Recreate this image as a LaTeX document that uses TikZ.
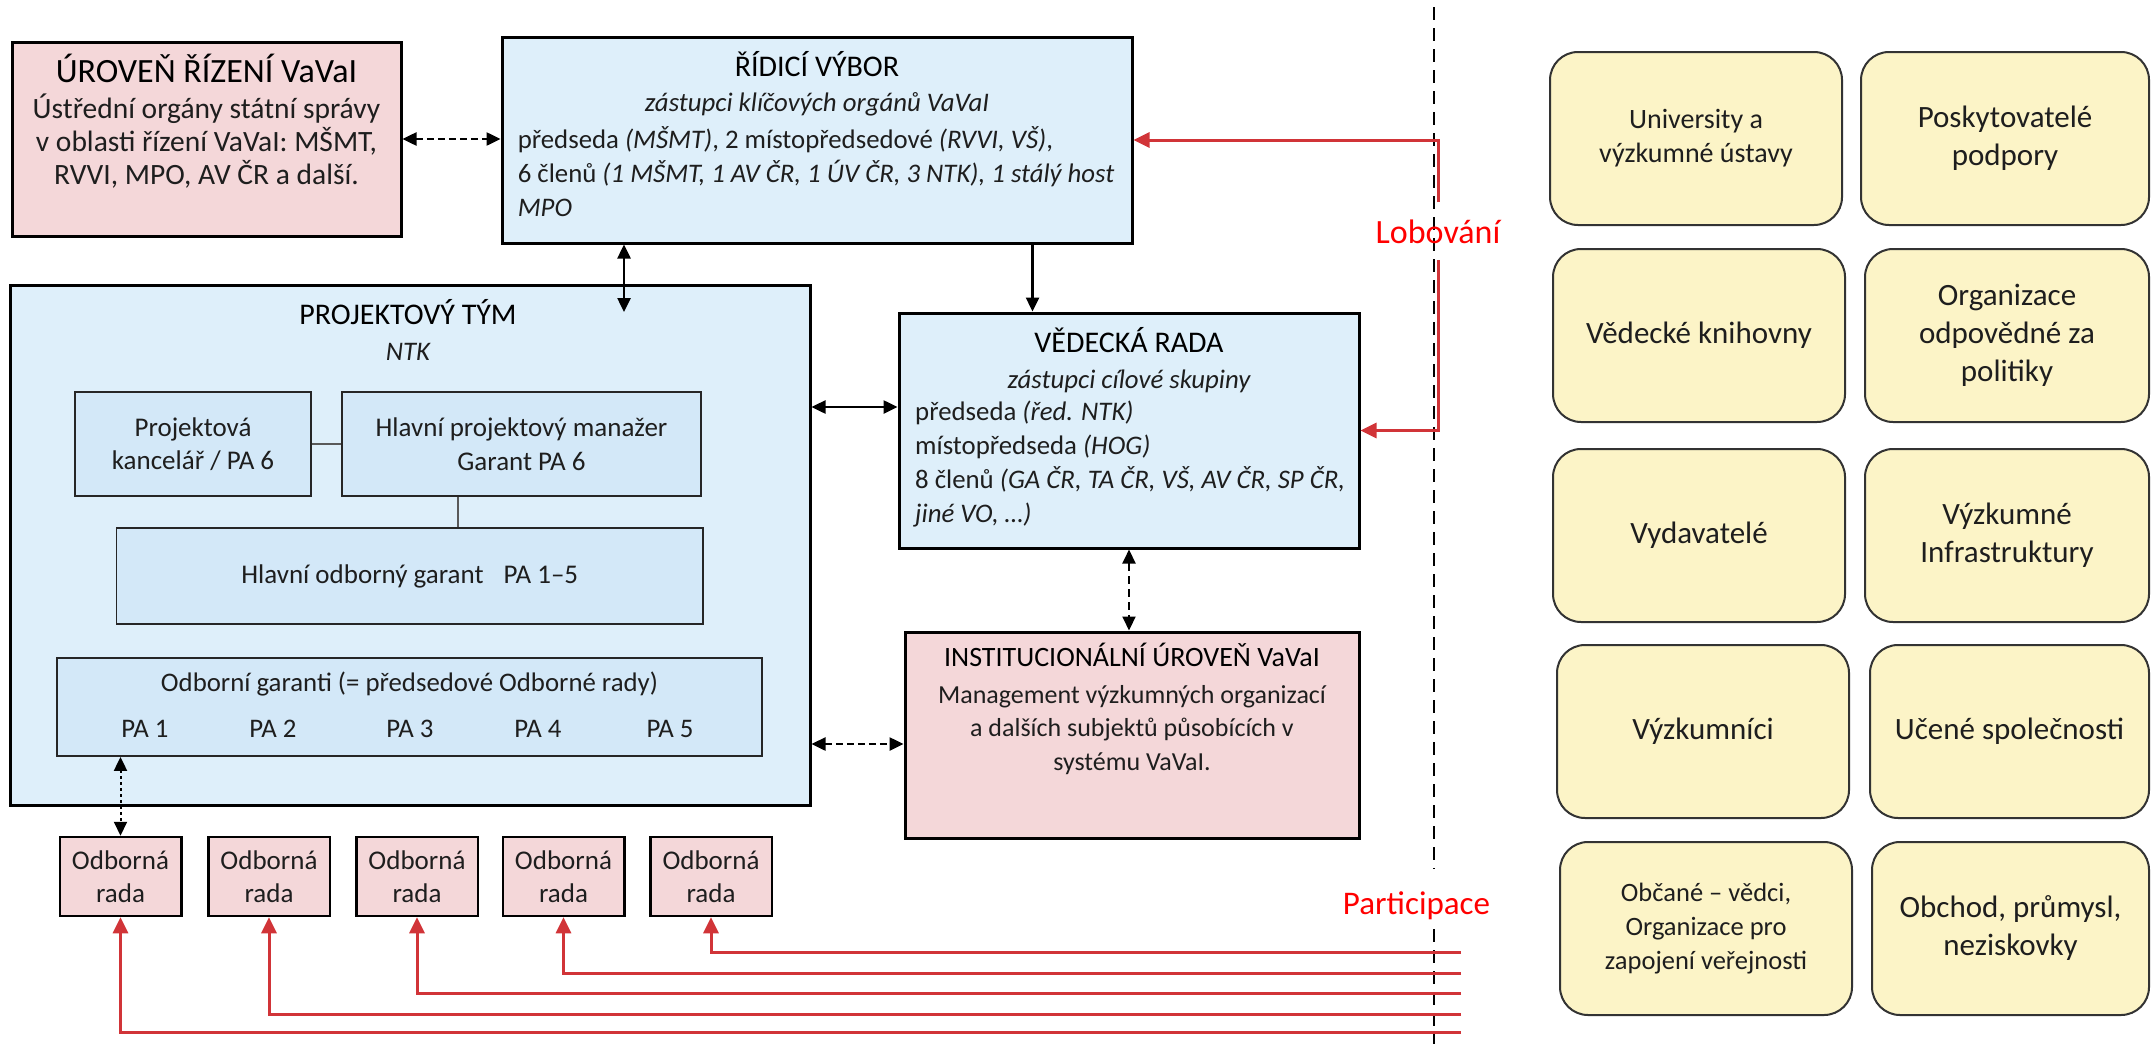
\documentclass[tikz,border=0pt]{standalone}
\usepackage{fontspec}
\setmainfont{Carlito}
\usetikzlibrary{arrows.meta}
\definecolor{pinkf}{HTML}{F4D7D9}
\definecolor{bluef}{HTML}{DEEFFA}
\definecolor{bluein}{HTML}{D3E8F8}
\definecolor{yellowf}{HTML}{FCF4C7}
\definecolor{redl}{HTML}{D13438}
\definecolor{lobred}{HTML}{FF0000}
\definecolor{txt}{HTML}{1E1E1E}
\newcommand\fz[2]{\fontsize{#1}{#2}\selectfont}
\tikzset{
  bigbox/.style={draw=black, line width=3pt, inner sep=0pt},
  pinkbox/.style={bigbox, fill=pinkf},
  bluebox/.style={bigbox, fill=bluef},
  innerbox/.style={draw=black!85, line width=1.8pt, fill=bluein, inner sep=0pt, align=center, text=txt, font=\fz{27}{33.5}},
  radabox/.style={draw=black, line width=2.5pt, fill=pinkf, inner sep=0pt, align=center, text=txt, font=\fz{27}{33}, minimum width=121.5pt, minimum height=79pt},
  ybox/.style={draw=black!80, line width=2pt, fill=yellowf, rounded corners=28pt, inner sep=0pt, align=center, text=txt},
  ybig/.style={ybox, font=\fz{31}{38}},
  ysmall/.style={ybox, font=\fz{26.5}{34}},
  ttl/.style={inner sep=0pt, anchor=base, text=black, font=\fz{30}{36}},
  bodyt/.style={inner sep=0pt, text=txt, font=\fz{26.8}{34}},
  redlab/.style={inner sep=0pt, anchor=base, text=lobred},
  blkarr/.style={draw=black, line width=2.5pt},
  redarr/.style={draw=redl, line width=3pt, -{Triangle[length=16pt,width=15pt]}},
  thinln/.style={draw=black!65, line width=1.5pt},
  divider/.style={draw=black, line width=2.5pt, dash pattern=on 13pt off 8pt},
}
\begin{document}
\begin{tikzpicture}[x=1pt,y=-1pt, >={Triangle[length=14pt,width=13pt]}]
\useasboundingbox (0,0) rectangle (2151,1044);

% divider
\draw[divider] (1434,7) -- (1434,869);
\draw[divider] (1434,929) -- (1434,1044);

% main boxes
\node[pinkbox, minimum width=389pt, minimum height=194pt] (uroven) at (206.5,139) {};
\node[bluebox, minimum width=630pt, minimum height=206pt] (ridici) at (817,140) {};
\node[bluebox, minimum width=800pt, minimum height=520pt] (projekt) at (410,545) {};
\node[bluebox, minimum width=460pt, minimum height=235pt] (vedecka) at (1129,430.5) {};
\node[pinkbox, minimum width=454pt, minimum height=206pt] (instit) at (1132,735) {};

% inner boxes of the project team
\node[innerbox, minimum width=236pt, minimum height=104pt] (kancelar) at (193,444) {Projektová\\kancelář / PA 6};
\node[innerbox, minimum width=359pt, minimum height=104pt] (manazer) at (521.5,444) {Hlavní projektový manažer\\Garant PA 6};
\node[innerbox, minimum width=586.5pt, minimum height=96pt] (garant) at (409.75,576) {Hlavní odborný garant\hspace{20pt}PA 1–5};
\node[innerbox, minimum width=705pt, minimum height=98pt] (garanti) at (409.5,707) {};

% texts of main boxes
\node[ttl, font=\fz{34}{40}] (urovent) at (206.5,82.6) {ÚROVEŇ ŘÍZENÍ VaVaI};
\node[bodyt, font=\fz{29.5}{33}, align=center] (urovenb) at (206.5,141) {Ústřední orgány státní správy\\v oblasti řízení VaVaI: MŠMT,\\RVVI, MPO, AV ČR a další.};

\node[ttl] (ridicit) at (817,76.4) {ŘÍDICÍ VÝBOR};
\node[bodyt, anchor=base] (ridicis) at (817,111) {\itshape zástupci klíčových orgánů VaVaI};
\node[bodyt, anchor=west, align=left] (ridicib) at (517.6,172) {předseda \textit{(MŠMT)}, 2 místopředsedové \textit{(RVVI, VŠ)},\\6 členů \textit{(1 MŠMT, 1 AV ČR, 1 ÚV ČR, 3 NTK), 1 stálý host}\\\textit{MPO}};

\node[ttl] (projektt) at (408,324.7) {PROJEKTOVÝ TÝM};
\node[bodyt, anchor=base] (projekts) at (408,360) {\itshape NTK};

\node[ttl] (vedeckat) at (1129,352.7) {VĚDECKÁ RADA};
\node[bodyt, anchor=base] (vedeckas) at (1129,388) {\itshape zástupci cílové skupiny};
\node[bodyt, anchor=west, align=left] (vedeckab) at (915,464) {předseda \textit{(řed. NTK)}\\místopředseda \textit{(HOG)}\\8 členů \textit{(GA ČR, TA ČR, VŠ, AV ČR, SP ČR,}\\\textit{jiné VO, …)}};

\node[ttl, font=\fz{28}{34}] (institt) at (1132,666) {INSTITUCIONÁLNÍ ÚROVEŇ VaVaI};
\node[bodyt, font=\fz{26}{33.5}, align=center] (institb) at (1132,730) {Management výzkumných organizací\\a dalších subjektů působících v\\systému VaVaI.};

\node[bodyt, anchor=base] (garantit) at (409.5,691.7) {Odborní garanti (= předsedové Odborné rady)};
\node[bodyt, anchor=base] (pa1) at (145,737.7) {PA 1};
\node[bodyt, anchor=base] (pa2) at (273,737.7) {PA 2};
\node[bodyt, anchor=base] (pa3) at (410,737.7) {PA 3};
\node[bodyt, anchor=base] (pa4) at (538,737.7) {PA 4};
\node[bodyt, anchor=base] (pa5) at (670,737.7) {PA 5};

% odborne rady
\node[radabox] (rada1) at (120.5,876.5) {Odborná\\rada};
\node[radabox] (rada2) at (269,876.5) {Odborná\\rada};
\node[radabox] (rada3) at (417,876.5) {Odborná\\rada};
\node[radabox] (rada4) at (563.5,876.5) {Odborná\\rada};
\node[radabox] (rada5) at (711,876.5) {Odborná\\rada};

% target groups
\node[ysmall, font=\fz{28}{34}, minimum width=292pt, minimum height=173pt] (y11) at (1696,138.5) {University a\\výzkumné ústavy};
\node[ybig, minimum width=288pt, minimum height=173pt] (y12) at (2005,138.5) {Poskytovatelé\\podpory};
\node[ybig, minimum width=292pt, minimum height=173pt] (y21) at (1699,335.5) {Vědecké knihovny};
\node[ybig, minimum width=284pt, minimum height=173pt] (y22) at (2007,335.5) {Organizace\\odpovědné za\\politiky};
\node[ybig, minimum width=292pt, minimum height=173pt] (y31) at (1699,535.5) {Vydavatelé};
\node[ybig, minimum width=284pt, minimum height=173pt] (y32) at (2007,535.5) {Výzkumné\\Infrastruktury};
\node[ybig, minimum width=292pt, minimum height=173pt] (y41) at (1703,731.5) {Výzkumníci};
\node[ybig, minimum width=279pt, minimum height=173pt] (y42) at (2009.5,731.5) {Učené společnosti};
\node[ysmall, minimum width=292pt, minimum height=173pt] (y51) at (1706,928.5) {Občané – vědci,\\Organizace pro\\zapojení veřejnosti};
\node[ybig, minimum width=277pt, minimum height=173pt] (y52) at (2010.5,928.5) {Obchod, průmysl,\\neziskovky};

% labels
\node[redlab, font=\fz{34}{40}] (lob) at (1438,243) {Lobování};
\node[redlab, font=\fz{33}{40}] (part) at (1416.5,914) {Participace};

% inner connectors
\draw[thinln] (kancelar.east) -- (manazer.west);
\coordinate (mgx) at (458,0);
\draw[thinln] (manazer.south -| mgx) -- (garant.north -| mgx);

% black arrows
\draw[blkarr, dash pattern=on 7pt off 4pt, <->] (uroven.east) -- (uroven.east -| ridici.west);
\coordinate (pin) at (624,312);
\draw[blkarr, <->] (pin |- ridici.south) -- (pin);
\coordinate (rvx) at (1032.5,0);
\draw[blkarr, ->] (ridici.south -| rvx) -- (vedecka.north -| rvx);
\coordinate (pvy) at (0,407);
\draw[blkarr, <->] (projekt.east |- pvy) -- (vedecka.west |- pvy);
\coordinate (piy) at (0,744);
\draw[blkarr, dash pattern=on 7pt off 4pt, <->] (projekt.east |- piy) -- (instit.west |- piy);
\draw[blkarr, line width=2pt, dash pattern=on 8pt off 5pt, <->] (vedecka.south) -- (vedecka.south |- instit.north);
\draw[blkarr, line width=2pt, dash pattern=on 3pt off 3pt, <->] (garanti.south -| rada1.north) -- (rada1.north);

% lobbying
\coordinate (lobA) at (1438,202);
\coordinate (lobB) at (1438,260);
\draw[redarr] (lobA) |- (ridici.east);
\draw[redarr] (lobB) |- (vedecka.east);

% participation
\coordinate (pe1) at (1461,1032);
\coordinate (pe2) at (1461,1014);
\coordinate (pe3) at (1461,993.3);
\coordinate (pe4) at (1461,973.3);
\coordinate (pe5) at (1461,952.7);
\draw[redarr] (pe1) -| (rada1.south);
\draw[redarr] (pe2) -| (rada2.south);
\draw[redarr] (pe3) -| (rada3.south);
\draw[redarr] (pe4) -| (rada4.south);
\draw[redarr] (pe5) -| (rada5.south);
\end{tikzpicture}
\end{document}
